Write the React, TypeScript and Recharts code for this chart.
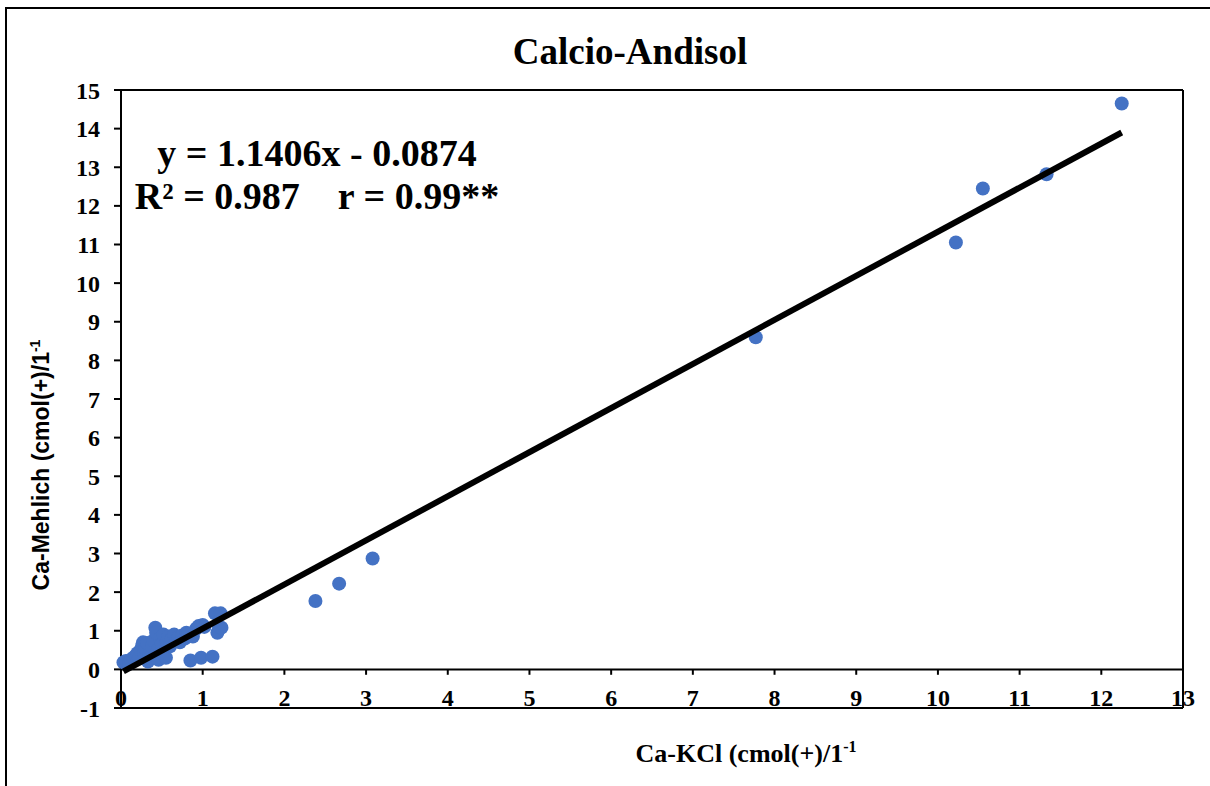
import { ReferenceLine, Scatter, ScatterChart, XAxis, YAxis } from "recharts";

// Ca-KCl vs Ca-Mehlich
const caKcl = [
  0.03, 0.06, 0.1, 0.12, 0.15, 0.18, 0.2, 0.22, 0.24, 0.26, 0.27, 0.28, 0.3,
  0.32, 0.33, 0.35, 0.36, 0.38, 0.4, 0.42, 0.43, 0.45, 0.46, 0.48, 0.5, 0.52,
  0.53, 0.55, 0.56, 0.58, 0.6, 0.62, 0.65, 0.68, 0.7, 0.72, 0.75, 0.78, 0.8,
  0.82, 0.85, 0.88, 0.92, 0.95, 0.98, 1.0, 1.02, 1.12, 1.15, 1.18, 1.2, 1.22,
  1.23, 2.38, 2.67, 3.08, 7.77, 10.22, 10.55, 11.33, 12.25,
];
const caMehlich = [
  0.18, 0.22, 0.15, 0.25, 0.3, 0.35, 0.42, 0.28, 0.5, 0.62, 0.7, 0.45, 0.55,
  0.68, 0.2, 0.4, 0.3, 0.6, 0.75, 1.08, 0.95, 0.5, 0.25, 0.8, 0.65, 0.9, 0.45,
  0.3, 0.72, 0.85, 0.6, 0.78, 0.9, 0.75, 0.82, 0.7, 0.88, 0.8, 0.95, 0.9, 0.23,
  0.85, 1.05, 1.12, 0.3, 1.15, 1.1, 0.33, 1.45, 0.95, 1.1, 1.45, 1.08, 1.77,
  2.22, 2.87, 8.6, 11.05, 12.45, 12.82, 14.65,
];

// trendline ends as drawn
const trendX = [0.03, 12.25];
const trendY = [-0.05, 13.9];

const xTicks = [0, 1, 2, 3, 4, 5, 6, 7, 8, 9, 10, 11, 12, 13];
const yTicks = [-1, 0, 1, 2, 3, 4, 5, 6, 7, 8, 9, 10, 11, 12, 13, 14, 15];

const points = caKcl.map((x, i) => ({ x, y: caMehlich[i] }));
const trend = trendX.map((x, i) => ({ x, y: trendY[i] }));

const serif = "'Liberation Serif', 'Times New Roman', serif";

function XTick(props: any) {
  const { x, y, payload } = props;
  return (
    <text x={x} y={y - 2} textAnchor="middle" fontFamily={serif} fontWeight="bold" fontSize={24} fill="#000">
      {payload.value}
    </text>
  );
}

function Dot(props: any) {
  return <circle cx={props.cx} cy={props.cy} r={7} fill="#4472C4" />;
}

export default function App() {
  return (
    <div style={{ position: "absolute", left: 0, top: 0, width: 1210, height: 786, background: "#fff", overflow: "hidden" }}>
      <div style={{ position: "absolute", left: 5, top: 7, width: 1300, height: 900, borderLeft: "2px solid #000", borderTop: "2px solid #000" }} />
      <div style={{ position: "absolute", left: 0, top: 0 }}>
        <ScatterChart width={1210} height={786} margin={{ top: 90, right: 27, bottom: 48, left: 61 }}>
          <XAxis
            type="number"
            dataKey="x"
            domain={[0, 13]}
            ticks={xTicks}
            height={30}
            tickSize={0}
            tickMargin={0}
            tickLine={false}
            axisLine={{ stroke: "#000", strokeWidth: 2 }}
            tick={XTick}
            interval={0}
          />
          <YAxis
            type="number"
            dataKey="y"
            domain={[-1, 15]}
            ticks={yTicks}
            width={60}
            tickSize={7}
            tickMargin={14}
            interval={0}
            axisLine={{ stroke: "#000", strokeWidth: 2 }}
            tickLine={{ stroke: "#000", strokeWidth: 2 }}
            tick={{ fill: "#000", fontFamily: serif, fontWeight: "bold", fontSize: 24 }}
          />
          <ReferenceLine y={15} stroke="#000" strokeWidth={2} />
          <ReferenceLine x={13} stroke="#000" strokeWidth={2} />
          <ReferenceLine y={0} stroke="#000" strokeWidth={2} />
          {xTicks.map((t) => (
            <ReferenceLine
              key={t}
              segment={[{ x: t, y: 0 }, { x: t, y: -0.14 }]}
              stroke="#000"
              strokeWidth={2}
            />
          ))}
          <Scatter data={points} fill="#4472C4" shape={Dot} isAnimationActive={false} />
          <Scatter
            data={trend}
            line={{ stroke: "#000", strokeWidth: 6 }}
            shape={() => null}
            isAnimationActive={false}
          />
        </ScatterChart>
      </div>
      <div style={{ position: "absolute", left: 330, width: 600, top: 30, textAlign: "center", fontFamily: serif, fontWeight: "bold", fontSize: 37, lineHeight: "44px" }}>
        Calcio-Andisol
      </div>
      <div style={{ position: "absolute", left: 117, width: 400, top: 132, textAlign: "center", fontFamily: serif, fontWeight: "bold", fontSize: 38, lineHeight: "43px", whiteSpace: "pre" }}>
        {"y = 1.1406x - 0.0874\nR² = 0.987    r = 0.99**"}
      </div>
      <div style={{ position: "absolute", left: 446, width: 600, top: 738, textAlign: "center", fontFamily: serif, fontWeight: "bold", fontSize: 26 }}>
        Ca-KCl (cmol(+)/1<sup style={{ fontSize: 16 }}>-1</sup>
      </div>
      <div
        style={{
          position: "absolute",
          left: 41,
          top: 465,
          transform: "translate(-50%, -50%) rotate(-90deg)",
          whiteSpace: "nowrap",
          fontFamily: "'Liberation Sans', Arial, sans-serif",
          fontWeight: "bold",
          fontSize: 23,
        }}
      >
        Ca-Mehlich (cmol(+)/1<sup style={{ fontSize: 14 }}>-1</sup>
      </div>
    </div>
  );
}
